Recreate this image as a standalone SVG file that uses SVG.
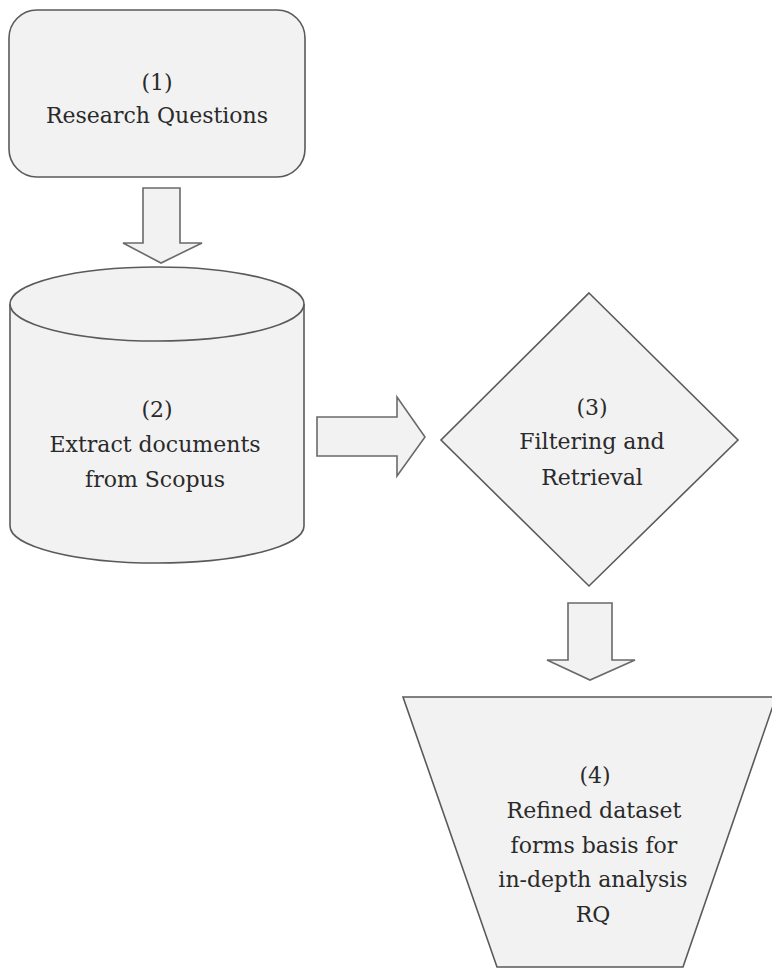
<svg xmlns="http://www.w3.org/2000/svg" width="772" height="977" viewBox="0 0 772 977">
<style>
.shape{fill:#f2f2f2;stroke:#5a5a5a;stroke-width:1.6;stroke-linejoin:miter}
.arrow{fill:#f2f2f2;stroke:#6a6a6a;stroke-width:1.6}
text{font-family:"DejaVu Serif","Liberation Serif",serif;font-size:22px;fill:#2a2a2a;text-anchor:middle}
</style>
<rect x="0" y="0" width="772" height="977" fill="#ffffff"/>
<g id="connectors">
<path class="arrow" d="M143,188 H180 V243 H202 L161,263 L123,243 H143 Z"/>
<path class="arrow" d="M317,417 H397 V397 L425,437 L397,476 V456 H317 Z"/>
<path class="arrow" d="M568,603 H612 V660 H635 L590,680 L547,660 H568 Z"/>
</g>
<g id="node1">
<rect class="shape" x="9" y="10" width="296" height="167" rx="28" ry="28"/>
<text x="157" y="90">(1)</text>
<text x="157" y="123">Research Questions</text>
</g>
<g id="node2">
<path class="shape" d="M10,304 V526 A147,37 0 0 0 304,526 V304"/>
<ellipse class="shape" cx="157" cy="304" rx="147" ry="37"/>
<text x="157" y="417">(2)</text>
<text x="155" y="452">Extract documents</text>
<text x="155" y="487">from Scopus</text>
</g>
<g id="node3">
<path class="shape" d="M589,293 L738,440 L589,586 L441,440 Z"/>
<text x="592" y="415">(3)</text>
<text x="592" y="449">Filtering and</text>
<text x="592" y="485">Retrieval</text>
</g>
<g id="node4">
<path class="shape" d="M403,697 H776 L683,967 H497 Z"/>
<text x="595" y="783">(4)</text>
<text x="594" y="818">Refined dataset</text>
<text x="594" y="853">forms basis for</text>
<text x="593" y="887">in-depth analysis</text>
<text x="593" y="922">RQ</text>
</g>
</svg>
